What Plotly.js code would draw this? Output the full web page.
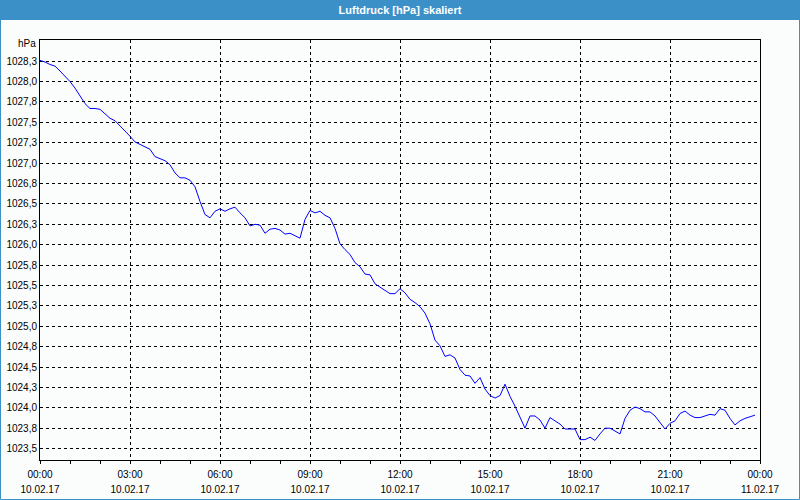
<!DOCTYPE html>
<html><head><meta charset="utf-8">
<script src="https://cdn.plot.ly/plotly-3.0.1.min.js"></script>
<style>html,body{margin:0;padding:0;background:#fbfdfc}#chart{width:800px;height:500px}</style>
</head><body><div id="chart"></div>
<script>
const chartTitle = 'Luftdruck [hPa] skaliert';
const unitLabel = 'hPa';
const startDay = '2017-02-10';
const endTime = '2017-02-11 00:00';
const stepMinutes = 10;

// Luftdruck in hPa, one reading every 10 minutes from 10.02.17 00:00
const pressure = [
  1028.26, 1028.24, 1028.21, 1028.19, 1028.13, 1028.07, 1028.00, 1027.92, 1027.82, 1027.73,
  1027.67, 1027.67, 1027.66, 1027.61, 1027.55, 1027.52, 1027.46, 1027.39, 1027.33, 1027.26,
  1027.23, 1027.19, 1027.17, 1027.08, 1027.05, 1027.03, 1026.98, 1026.88, 1026.82, 1026.82,
  1026.79, 1026.71, 1026.53, 1026.37, 1026.33, 1026.41, 1026.44, 1026.41, 1026.44, 1026.46,
  1026.39, 1026.33, 1026.23, 1026.25, 1026.24, 1026.14, 1026.19, 1026.20, 1026.18, 1026.13,
  1026.14, 1026.11, 1026.08, 1026.31, 1026.42, 1026.39, 1026.41, 1026.36, 1026.33, 1026.20,
  1026.01, 1025.94, 1025.88, 1025.78, 1025.73, 1025.64, 1025.63, 1025.52, 1025.48, 1025.45,
  1025.40, 1025.40, 1025.46, 1025.41, 1025.33, 1025.29, 1025.24, 1025.16, 1025.03, 1024.83,
  1024.76, 1024.63, 1024.65, 1024.61, 1024.47, 1024.40, 1024.39, 1024.30, 1024.37, 1024.23,
  1024.15, 1024.12, 1024.15, 1024.29, 1024.14, 1024.02, 1023.89, 1023.75, 1023.90, 1023.90,
  1023.85, 1023.75, 1023.88, 1023.84, 1023.80, 1023.74, 1023.74, 1023.74, 1023.61, 1023.61,
  1023.64, 1023.60, 1023.68, 1023.75, 1023.75, 1023.72, 1023.68, 1023.87, 1023.97, 1024.01,
  1023.99, 1023.95, 1023.95, 1023.90, 1023.82, 1023.74, 1023.81, 1023.84, 1023.93, 1023.96,
  1023.91, 1023.88, 1023.88, 1023.90, 1023.92, 1023.91, 1023.99, 1023.97, 1023.87, 1023.79,
  1023.84, 1023.87, 1023.89, 1023.91
];

const xTickVals = ['2017-02-10 00:00','2017-02-10 03:00','2017-02-10 06:00','2017-02-10 09:00',
  '2017-02-10 12:00','2017-02-10 15:00','2017-02-10 18:00','2017-02-10 21:00','2017-02-11 00:00'];
const xTickTime = ['00:00','03:00','06:00','09:00','12:00','15:00','18:00','21:00','00:00'];
const xTickDate = ['10.02.17','10.02.17','10.02.17','10.02.17','10.02.17','10.02.17','10.02.17','10.02.17','11.02.17'];

const yTickVals = [1023.5,1023.75,1024,1024.25,1024.5,1024.75,1025,1025.25,1025.5,1025.75,
  1026,1026.25,1026.5,1026.75,1027,1027.25,1027.5,1027.75,1028,1028.25];
const yTickText = ['1023,5','1023,8','1024,0','1024,3','1024,5','1024,8','1025,0','1025,3','1025,5','1025,8',
  '1026,0','1026,3','1026,5','1026,8','1027,0','1027,3','1027,5','1027,8','1028,0','1028,3'];

const pad = n => String(n).padStart(2, '0');
const times = pressure.map((_, i) => {
  const m = i * stepMinutes;
  return startDay + ' ' + pad(Math.floor(m / 60)) + ':' + pad(m % 60);
});

const W = 800, H = 500, ML = 40, MR = 40, MT = 40, MB = 40;
const PW = W - ML - MR, PH = H - MT - MB;
const xp = px => (px - ML) / PW;
const yp = py => (H - MB - py) / PH;
const blue = '#3c90c8';
const bg = '#fbfdfc';
const font = 'Liberation Sans, Arial, sans-serif';
const xRange = [startDay + ' 00:00', endTime];

const trace = {
  x: times, y: pressure, type: 'scatter', mode: 'lines',
  line: {color: '#0000ff', width: 1}, hoverinfo: 'skip'
};
const dateRow = {
  x: xTickVals, y: xTickVals.map(() => null), xaxis: 'x2', yaxis: 'y',
  type: 'scatter', mode: 'lines', hoverinfo: 'skip', showlegend: false
};

const layout = {
  width: W, height: H, autosize: false,
  margin: {l: ML, r: MR, t: MT, b: MB, pad: 0},
  paper_bgcolor: bg, plot_bgcolor: bg,
  showlegend: false,
  font: {family: font, size: 10, color: '#000'},
  title: {text: chartTitle, x: 0.5, xref: 'container', xanchor: 'center',
    y: 1 - 10 / H, yref: 'container', yanchor: 'middle',
    font: {family: font, size: 11, color: '#ffffff', weight: 'bold'}},
  xaxis: {
    type: 'date', range: xRange,
    tickmode: 'array', tickvals: xTickVals, ticktext: xTickTime,
    showgrid: true, gridcolor: '#000', gridwidth: 1, griddash: '3px,3px',
    showline: true, linecolor: '#000', linewidth: 1, mirror: true,
    ticks: 'outside', ticklen: 3, tickcolor: '#000', tickwidth: 1,
    ticklabelstandoff: 2,
    zeroline: false,
    tickfont: {family: font, size: 10, color: '#000'},
    minor: {tickmode: 'linear', tick0: startDay + ' 00:00', dtick: 3600000,
      ticks: 'outside', ticklen: 3, tickcolor: '#000', tickwidth: 1, showgrid: false}
  },
  xaxis2: {
    type: 'date', range: xRange, overlaying: 'x', side: 'bottom', anchor: 'y',
    tickmode: 'array', tickvals: xTickVals, ticktext: xTickDate,
    showgrid: false, showline: false, zeroline: false, ticks: '',
    ticklabelstandoff: 22,
    tickfont: {family: font, size: 10, color: '#000'}
  },
  yaxis: {
    range: [1023.36, 1028.51],
    tickmode: 'array', tickvals: yTickVals, ticktext: yTickText,
    showgrid: true, gridcolor: '#000', gridwidth: 1, griddash: '3px,3px',
    showline: true, linecolor: '#000', linewidth: 1, mirror: true,
    ticks: '', zeroline: false,
    tickfont: {family: font, size: 10, color: '#000'}
  },
  annotations: [{
    text: unitLabel, xref: 'paper', yref: 'paper',
    x: xp(38), y: yp(44), xanchor: 'right', yanchor: 'middle',
    showarrow: false, font: {family: font, size: 10, color: '#000'}
  }],
  shapes: [
    {type: 'rect', xref: 'paper', yref: 'paper', layer: 'below',
      x0: xp(0), x1: xp(800), y0: yp(20), y1: yp(0),
      fillcolor: blue, line: {width: 0}},
    {type: 'rect', xref: 'paper', yref: 'paper', layer: 'above',
      x0: xp(0.5), x1: xp(799.5), y0: yp(499.5), y1: yp(0.5),
      fillcolor: 'rgba(0,0,0,0)', line: {color: blue, width: 1}}
  ]
};

Plotly.newPlot('chart', [trace, dateRow], layout, {displayModeBar: false, staticPlot: true});
</script>
</body></html>
